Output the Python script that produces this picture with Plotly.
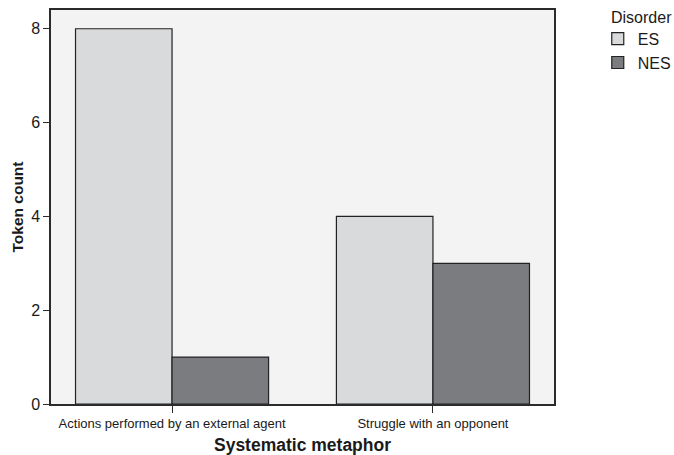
import plotly.graph_objects as go

categories = ["Actions performed by an external agent", "Struggle with an opponent"]
es_values = [8, 4]
nes_values = [1, 3]
y_ticks = [0, 2, 4, 6, 8]

font = "Liberation Sans, Arial, sans-serif"
fig = go.Figure()
fig.add_trace(go.Bar(x=categories, y=es_values, name="ES",
                     marker=dict(color="#d9dadc", line=dict(color="#222222", width=1.2))))
fig.add_trace(go.Bar(x=categories, y=nes_values, name="NES",
                     marker=dict(color="#7b7c80", line=dict(color="#222222", width=1.2))))

fig.update_layout(
    width=674, height=455,
    margin=dict(l=51, r=120, t=10, b=51, autoexpand=False),
    paper_bgcolor="white", plot_bgcolor="#f2f3f2",
    barmode="group", bargap=0.26, bargroupgap=0,
    font=dict(family=font, color="#1a1a1a"),
    showlegend=True,
    legend=dict(font=dict(size=16),
                x=1.087, xanchor="left", y=0.970, yanchor="top",
                bgcolor="rgba(0,0,0,0)", itemwidth=30, tracegroupgap=0),
    annotations=[dict(text="Disorder", xref="paper", yref="paper", x=1.109, y=0.982,
                      xanchor="left", yanchor="middle", showarrow=False,
                      font=dict(size=16, family=font, color="#1a1a1a"))],
)
fig.update_xaxes(range=[-0.464, 1.464], ticks="outside", ticklen=7, tickcolor="#2b2b2b",
                 showline=True, linecolor="#2b2b2b", linewidth=1.5, mirror=True,
                 tickfont=dict(size=13),
                 title=dict(text="<b>Systematic metaphor</b>", font=dict(size=17.5), standoff=8))
fig.update_yaxes(range=[0, 8.4], tickvals=y_ticks, ticks="outside", ticklen=6, tickcolor="#2b2b2b",
                 showline=True, linecolor="#2b2b2b", linewidth=1.5, mirror=True,
                 showgrid=False, zeroline=False, tickfont=dict(size=16),
                 title=dict(text="<b>Token count</b>", font=dict(size=15.5), standoff=4))
fig.write_html("out.html", config={"displayModeBar": False},
               post_script="document.body.style.margin='0';document.body.style.overflow='hidden';")
